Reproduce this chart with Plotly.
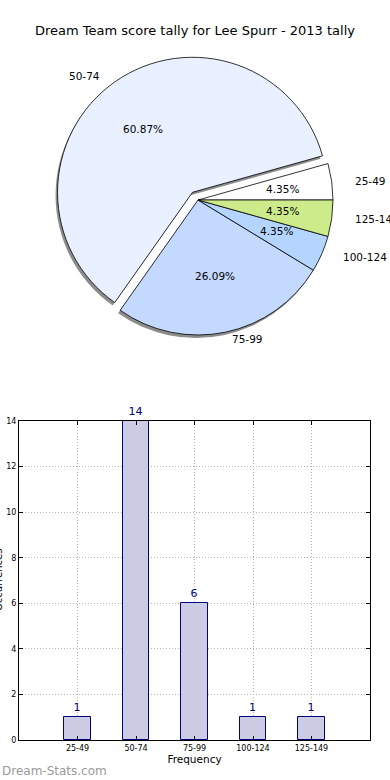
import math
import plotly.graph_objects as go

# ---------------- data ----------------
title_text = "Dream Team score tally for Lee Spurr - 2013 tally"
categories = ["25-49", "50-74", "75-99", "100-124", "125-149"]
counts = [1, 14, 6, 1, 1]
pie_colors = ["#FFFFFF", "#E9F0FF", "#C4D9FF", "#B3D5FF", "#CEEB8B"]
pie_pull = [0, 0.07, 0, 0, 0]
y_ticks = [0, 2, 4, 6, 8, 10, 12, 14]
x_title = "Frequency"
y_title = "Occurrences"
watermark = "Dream-Stats.com"

# ---------------- layout geometry ----------------
W, H = 390, 780
FONT = "DejaVu Sans"
PIE_CX, PIE_CY, PIE_R = 198, 200, 135
LABEL_RX, LABEL_RY = 142, 129   # text placement radii (original pie was slightly oval)
SHADOW_DX, SHADOW_DY = -2, 3
maxpull = max(pie_pull)
side = 2 * PIE_R * (1 + maxpull)
total = sum(counts)
# first wedge starts at 3 o'clock and runs counter-clockwise (matplotlib default)
pie_rotation = 90 - 360.0 * counts[0] / total


def pie_domain(cx, cy):
    return dict(x=[(cx - side / 2) / W, (cx + side / 2) / W],
                y=[1 - (cy + side / 2) / H, 1 - (cy - side / 2) / H])


fig = go.Figure()

# shadow pie
fig.add_trace(go.Pie(
    values=counts, labels=categories, sort=False, direction="counterclockwise",
    rotation=pie_rotation, pull=pie_pull, textinfo="none", hoverinfo="skip",
    marker=dict(colors=["#8c8c8c"] * len(counts), line=dict(width=0)),
    domain=pie_domain(PIE_CX + SHADOW_DX, PIE_CY + SHADOW_DY), showlegend=False,
))
# main pie
fig.add_trace(go.Pie(
    values=counts, labels=categories, sort=False, direction="counterclockwise",
    rotation=pie_rotation, pull=pie_pull, textinfo="none",
    marker=dict(colors=pie_colors, line=dict(color="#000000", width=0.8)),
    domain=pie_domain(PIE_CX, PIE_CY), showlegend=False,
))

# pie labels (matplotlib style: percent at 0.6 r, label at 1.1 r)
cum = 0
annotations = []
for lab, v, p in zip(categories, counts, pie_pull):
    theta = math.radians((cum + v / 2) / total * 360)
    cum += v
    c, s = math.cos(theta), math.sin(theta)
    ox = PIE_CX + p * PIE_R * c
    oy = PIE_CY - p * PIE_R * s
    px = ox + 0.6 * LABEL_RX * c
    py = oy - 0.6 * LABEL_RY * s
    annotations.append(dict(
        x=px / W, y=1 - py / H, xref="paper", yref="paper",
        text="%.2f%%" % (100 * v / total), showarrow=False,
        xanchor="center", yanchor="middle",
        font=dict(family=FONT, size=10.5, color="#000000")))
    lx = ox + 1.1 * LABEL_RX * c
    ly = oy - 1.1 * LABEL_RY * s
    annotations.append(dict(
        x=lx / W, y=1 - ly / H, xref="paper", yref="paper",
        text=lab, showarrow=False,
        xanchor="left" if c > 0 else "right", yanchor="middle",
        font=dict(family=FONT, size=10.5, color="#000000")))

# ---------------- bar chart ----------------
fig.add_trace(go.Bar(
    x=categories, y=counts, width=0.45,
    marker=dict(color="#CCCCE5", line=dict(color="#000080", width=1)),
    text=[str(c) for c in counts], textposition="outside",
    textfont=dict(family=FONT, size=11, color="#000080"),
    cliponaxis=False, showlegend=False,
))

annotations.append(dict(
    x=-2 / W, y=1 - 580 / H, xref="paper", yref="paper", text=y_title,
    showarrow=False, textangle=-90, xanchor="center", yanchor="middle",
    font=dict(family=FONT, size=10, color="#000000")))
annotations.append(dict(
    x=0, y=1 - 771 / H, xref="paper", yref="paper", text=watermark,
    showarrow=False, xanchor="left", yanchor="middle",
    font=dict(family=FONT, size=12, color="#9a9a9a")))

axis_common = dict(showline=True, linecolor="#000000", linewidth=1, mirror="ticks",
                   ticks="inside", ticklen=4, tickcolor="#000000", automargin=False,
                   showgrid=True, gridcolor="#b4b4b4", griddash="1px,2px", gridwidth=1,
                   zeroline=False, tickfont=dict(family=FONT, size=8, color="#000000"))

fig.update_layout(
    width=W, height=H, margin=dict(l=0, r=0, t=0, b=0, pad=0), autosize=False,
    paper_bgcolor="#ffffff", plot_bgcolor="#ffffff",
    title=dict(text=title_text, x=0.5, xanchor="center", y=1 - 30 / H, yanchor="middle",
               yref="container", font=dict(family=FONT, size=13, color="#000000")),
    xaxis=dict(domain=[19 / W, 370 / W], type="category", range=[-1, 5],
               categoryorder="array", categoryarray=categories,
               title=dict(text=x_title, standoff=4,
                          font=dict(family=FONT, size=10.5, color="#000000")),
               **axis_common),
    yaxis=dict(domain=[1 - 740 / H, 1 - 421 / H], range=[0, 14], tickvals=y_ticks,
               **axis_common),
    annotations=annotations,
    bargap=0,
)

fig.write_html(
    "out.html",
    config={"displayModeBar": False},
    post_script=("document.documentElement.style.margin='0';"
                 "document.body.style.margin='0';"
                 "document.body.style.overflow='hidden';"),
)
